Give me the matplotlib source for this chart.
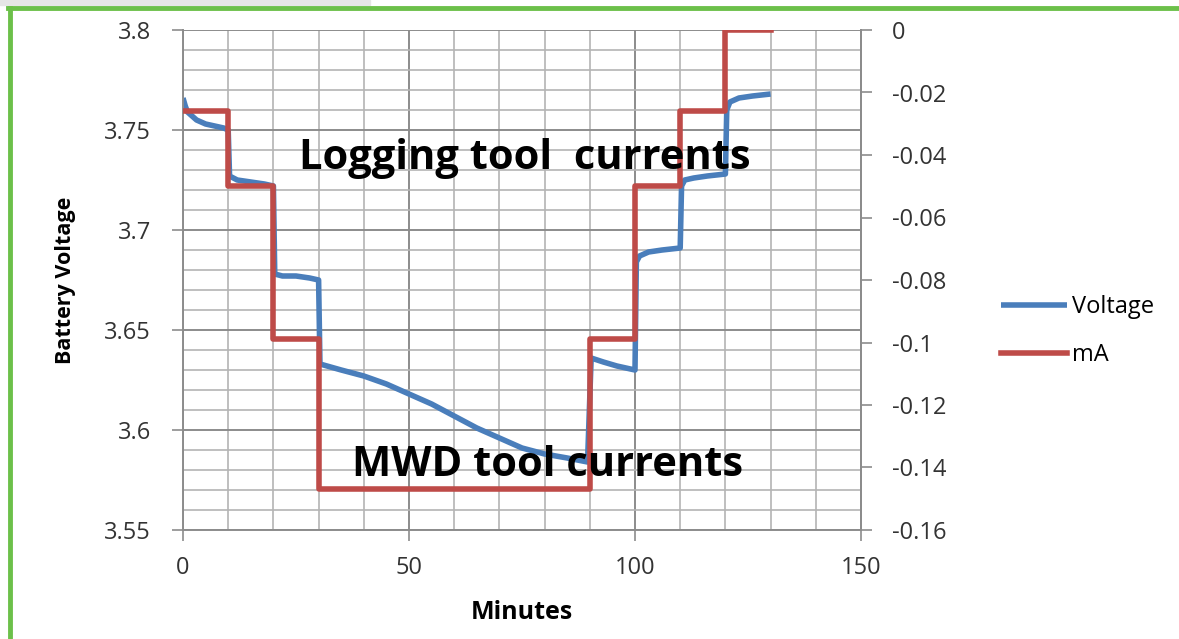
import matplotlib
matplotlib.use("Agg")
import matplotlib.pyplot as plt
from matplotlib.lines import Line2D
from matplotlib.ticker import MultipleLocator, FuncFormatter

# battery voltage (minutes, volts)
volt_t = [0, 0.5, 1, 2, 3, 5, 7, 9, 10,
          10.3, 12, 15, 18, 20,
          20.3, 22, 25, 28, 30,
          30.3, 35, 40, 45, 50, 55, 60, 65, 70, 75, 80, 85, 89.5,
          90.3, 93, 96, 100,
          100.3, 101, 103, 106, 110,
          110.3, 111, 113, 116, 120,
          120.3, 121, 123, 126, 130]
volt_v = [3.766, 3.762, 3.759, 3.757, 3.755, 3.753, 3.752, 3.751, 3.750,
          3.727, 3.725, 3.724, 3.723, 3.722,
          3.678, 3.677, 3.677, 3.676, 3.675,
          3.633, 3.630, 3.627, 3.623, 3.618, 3.613, 3.607, 3.601, 3.596, 3.591, 3.588, 3.586, 3.584,
          3.636, 3.634, 3.632, 3.630,
          3.684, 3.687, 3.689, 3.690, 3.691,
          3.722, 3.725, 3.726, 3.727, 3.728,
          3.760, 3.764, 3.766, 3.767, 3.768]

# current level of each 10 minute step (right axis)
ma_start = [0, 10, 20, 30, 90, 100, 110, 120, 130]
ma_level = [-0.026, -0.050, -0.099, -0.147, -0.099, -0.050, -0.026, 0.0, 0.0]

blue = "#4a7ebb"
red = "#be4b48"
grid_minor = "#b4b4b4"
grid_major = "#8c8c8c"
tick_col = "#333333"

plt.rcParams["font.family"] = ["Open Sans", "DejaVu Sans"]

fig = plt.figure(figsize=(11.79, 6.39), dpi=100)

# excel-ish frame: grey strip and green border
fig.patches.append(plt.Rectangle((0, 1 - 5 / 639), 370 / 1179, 5 / 639,
                                 transform=fig.transFigure, color="#e6e6e6", zorder=0))
fig.lines.append(Line2D([10 / 1179, 10 / 1179], [0, 1 - 8 / 639], transform=fig.transFigure,
                        color="#6cc04a", lw=3.5))
fig.lines.append(Line2D([8 / 1179, 1], [1 - 8 / 639, 1 - 8 / 639], transform=fig.transFigure,
                        color="#6cc04a", lw=3.5))

ax = fig.add_axes([183 / 1179, 1 - 530 / 639, 678 / 1179, 500 / 639])
ax.set_xlim(0, 150)
ax.set_ylim(3.55, 3.8)
ax.xaxis.set_major_locator(MultipleLocator(50))
ax.xaxis.set_minor_locator(MultipleLocator(10))
ax.yaxis.set_major_locator(MultipleLocator(0.05))
ax.yaxis.set_minor_locator(MultipleLocator(0.01))
ax.grid(which="minor", color=grid_minor, lw=1.2)
ax.grid(which="major", color=grid_major, lw=1.4)
ax.set_axisbelow(True)
ax.yaxis.set_major_formatter(FuncFormatter(lambda v, p: f"{v:g}"))
ax.tick_params(which="major", direction="out", length=8, width=1.2, color=grid_major,
               labelsize=17, labelcolor=tick_col)
ax.tick_params(axis="y", pad=15)
ax.tick_params(axis="x", pad=11)
ax.tick_params(which="minor", length=0)
for s in ax.spines.values():
    s.set_color(grid_major)
    s.set_linewidth(1.4)
ax.spines["top"].set_visible(False)

ax.plot(volt_t, volt_v, color=blue, lw=4, solid_capstyle="butt", label="Voltage")

ax2 = ax.twinx()
ax2.set_ylim(-0.16, 0)
ax2.yaxis.set_major_locator(MultipleLocator(0.02))
ax2.yaxis.set_major_formatter(FuncFormatter(lambda v, p: "0" if abs(v) < 1e-9 else f"{v:g}"))
ax2.tick_params(direction="out", length=8, width=1.2, color=grid_major,
                labelsize=17, labelcolor=tick_col, pad=14)
for s in ax2.spines.values():
    s.set_visible(False)
ax2.spines["right"].set_visible(True)
ax2.spines["right"].set_color(grid_major)
ax2.spines["right"].set_linewidth(1.4)
ax2.step(ma_start, ma_level, where="post", color=red, lw=4, label="mA")

ax.set_ylabel("Battery Voltage", fontsize=15.5, fontweight="bold", labelpad=20)
ax.set_xlabel("Minutes", fontsize=18, fontweight="bold", labelpad=14)

# annotations sit above both series
ax2.text(75.7, -0.041, "Logging tool  currents", fontsize=30, fontweight="bold",
         ha="center", va="center", zorder=5)
ax2.text(80.7, -0.1395, "MWD tool currents", fontsize=30, fontweight="bold",
         ha="center", va="center", zorder=5)

handles = [ax.get_lines()[0], ax2.get_lines()[0]]
fig.legend(handles, ["Voltage", "mA"], loc="center left",
           bbox_to_anchor=(980 / 1179, 1 - 331 / 639), frameon=False, fontsize=17,
           handlelength=2.8, handletextpad=0.2, labelspacing=1.0)

fig.savefig("out.png", dpi=100)
